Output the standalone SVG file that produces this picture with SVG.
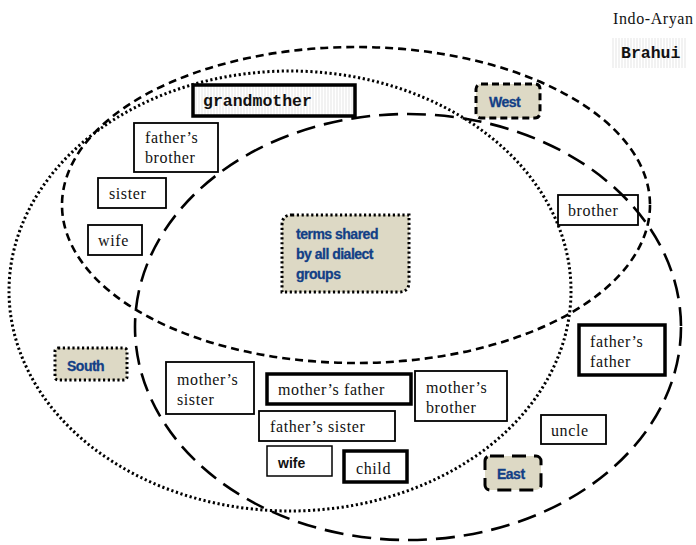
<svg xmlns="http://www.w3.org/2000/svg" width="696" height="545" viewBox="0 0 696 545">
<defs>
<pattern id="stripe" width="3" height="6" patternUnits="userSpaceOnUse">
<rect width="3" height="6" fill="#ffffff"/>
<line x1="1" y1="0" x2="1" y2="6" stroke="#e6e6e6" stroke-width="1"/>
</pattern>
</defs>
<style>
.bg{fill:#ffffff}
.reg{fill:none;stroke:#000;stroke-width:2.6}
.west{stroke-dasharray:8 5}
.south{stroke-dasharray:2.2 2.6;stroke-width:3}
.east{stroke-dasharray:19 9}
.box{fill:none;stroke:#000;stroke-width:1.8}
.thick{stroke-width:3.5}
.tan{fill:#ddd9c5;stroke:#000;stroke-width:3}
.ser{font-family:"Liberation Serif","Times New Roman",serif;font-size:16px;letter-spacing:0.6px;fill:#111}
.mono{font-family:"Liberation Mono","Courier New",monospace;font-size:16.5px;font-weight:bold;fill:#111}
.lbl{font-family:"Liberation Sans",Arial,sans-serif;font-size:14px;font-weight:bold;fill:#123f86;letter-spacing:-0.5px;stroke:#123f86;stroke-width:0.3px}
.sans{font-family:"Liberation Sans",Arial,sans-serif;font-size:14px;font-weight:bold;fill:#111}
</style>
<rect class="bg" width="696" height="545"/>
<g id="regions">
<ellipse class="reg south" cx="290" cy="291" rx="281" ry="220"/>
<ellipse class="reg west" cx="356" cy="205" rx="294" ry="158"/>
<ellipse class="reg east" cx="408" cy="327" rx="273" ry="213"/>
</g>
<g id="connectors"/>
<g id="indo-aryan"><text class="ser" x="613" y="24">Indo-Aryan</text></g>
<g id="brahui"><rect x="612" y="38" width="74" height="30" fill="url(#stripe)"/><text class="mono" x="621" y="58">Brahui</text></g>
<g id="grandmother"><rect class="box thick" x="193" y="85" width="162" height="31" style="fill:url(#stripe)"/><text class="mono" x="203" y="106">grandmother</text></g>
<g id="fathers-brother"><rect class="box" x="134" y="123" width="84" height="49"/><text class="ser" x="145" y="143">father’s</text><text class="ser" x="145" y="163">brother</text></g>
<g id="sister"><rect class="box" x="98" y="178" width="68" height="30"/><text class="ser" x="109" y="199">sister</text></g>
<g id="wife-w"><rect class="box" x="88" y="225" width="54" height="30"/><text class="ser" x="98" y="246">wife</text></g>
<g id="shared"><path class="tan" style="stroke-dasharray:2.2 2.6" d="M292,215 H409 V282 Q409,292 399,292 H282 V225 Q282,215 292,215 Z"/><text class="lbl" x="296" y="239">terms shared</text><text class="lbl" x="296" y="259">by all dialect</text><text class="lbl" x="296" y="279">groups</text></g>
<g id="west"><rect class="tan" style="stroke-dasharray:7 4" x="476" y="84" width="64" height="34" rx="5"/><text class="lbl" x="489" y="107">West</text></g>
<g id="brother"><rect class="box" x="558" y="195" width="80" height="30"/><text class="ser" x="568" y="216">brother</text></g>
<g id="south"><rect class="tan" style="stroke-dasharray:2.2 2.6" x="55" y="348" width="72" height="32" rx="3"/><text class="lbl" x="67" y="371">South</text></g>
<g id="fathers-father"><rect class="box thick" x="579" y="325" width="86" height="50"/><text class="ser" x="590" y="347">father’s</text><text class="ser" x="590" y="367">father</text></g>
<g id="mothers-sister"><rect class="box" x="166" y="362" width="88" height="52"/><text class="ser" x="177" y="385">mother’s</text><text class="ser" x="177" y="405">sister</text></g>
<g id="mothers-father"><rect class="box thick" x="267" y="374" width="144" height="30"/><text class="ser" x="278" y="395">mother’s father</text></g>
<g id="mothers-brother"><rect class="box" x="415" y="371" width="92" height="50"/><text class="ser" x="426" y="393">mother’s</text><text class="ser" x="426" y="413">brother</text></g>
<g id="fathers-sister"><rect class="box" x="259" y="411" width="136" height="30"/><text class="ser" x="270" y="432">father’s sister</text></g>
<g id="wife-s"><rect class="box" style="stroke-width:1.5" x="267" y="446" width="65" height="30"/><text class="sans" x="278" y="468">wife</text></g>
<g id="child"><rect class="box thick" x="344" y="451" width="63" height="31"/><text class="ser" x="356" y="474">child</text></g>
<g id="uncle"><rect class="box" x="541" y="415" width="65" height="29"/><text class="ser" x="551" y="436">uncle</text></g>
<g id="east"><rect class="tan" style="stroke-dasharray:14 8" x="485" y="456" width="56" height="34" rx="5"/><text class="lbl" x="497" y="479">East</text></g>
</svg>
